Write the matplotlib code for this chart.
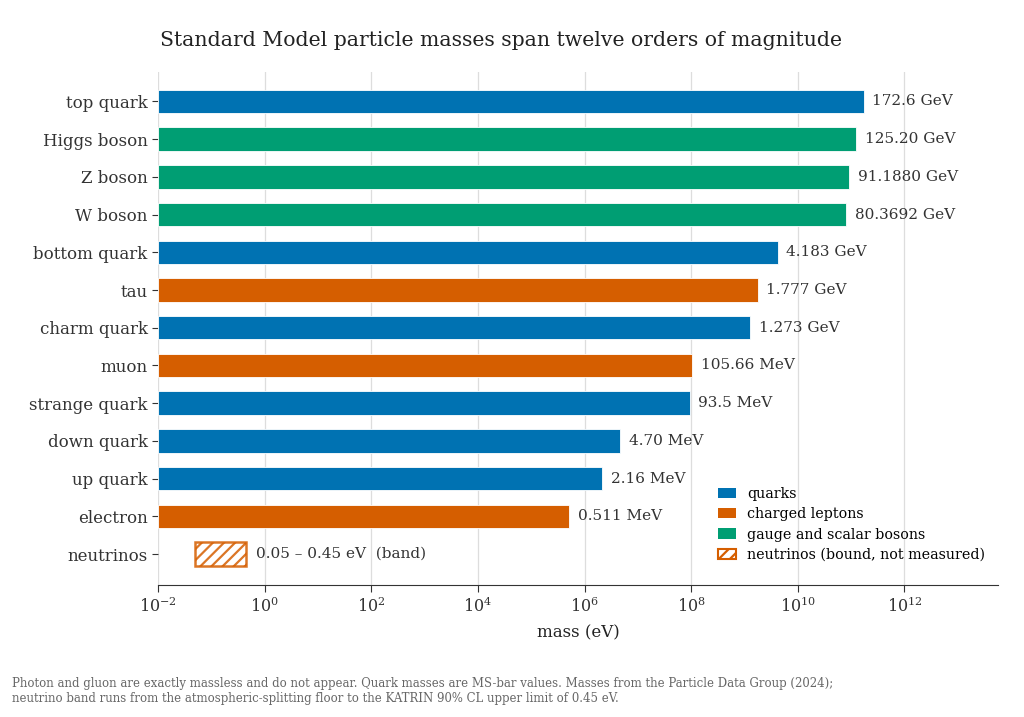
import matplotlib
matplotlib.use("Agg")
import matplotlib.pyplot as plt
from matplotlib.patches import Patch
import numpy as np

particles = ["top quark", "Higgs boson", "Z boson", "W boson", "bottom quark", "tau",
             "charm quark", "muon", "strange quark", "down quark", "up quark", "electron"]
masses_ev = [172.6e9, 125.20e9, 91.1880e9, 80.3692e9, 4.183e9, 1.777e9,
             1.273e9, 105.66e6, 93.5e6, 4.70e6, 2.16e6, 0.511e6]
groups = ["quarks", "gauge and scalar bosons", "gauge and scalar bosons", "gauge and scalar bosons",
          "quarks", "charged leptons", "quarks", "charged leptons", "quarks", "quarks", "quarks",
          "charged leptons"]
value_labels = ["172.6 GeV", "125.20 GeV", "91.1880 GeV", "80.3692 GeV", "4.183 GeV", "1.777 GeV",
                "1.273 GeV", "105.66 MeV", "93.5 MeV", "4.70 MeV", "2.16 MeV", "0.511 MeV"]
neutrino_low, neutrino_high = 0.05, 0.45
neutrino_label = "0.05 \u2013 0.45 eV  (band)"

colors = {"quarks": "#0072B2", "charged leptons": "#D55E00", "gauge and scalar bosons": "#009E73"}
x_floor = 1e-2

plt.rcParams["font.family"] = "DejaVu Serif"
plt.rcParams["hatch.linewidth"] = 1.6
fig = plt.figure(figsize=(10.24, 7.17), dpi=100)
ax = fig.add_axes([158/1024, 1-585/717, (998-158)/1024, (585-72)/717])

n = len(particles)
ypos = np.arange(n, 0, -1)  # top quark at top, neutrinos at 0
for y, m, g, lab in zip(ypos, masses_ev, groups, value_labels):
    ax.barh(y, m - x_floor, left=x_floor, height=0.62, color=colors[g], edgecolor="white", linewidth=0.6, zorder=3)
    ax.text(m * 1.45, y, lab, va="center", ha="left", fontsize=11, color="#333333", zorder=4)

ax.barh(0, neutrino_high - neutrino_low, left=neutrino_low, height=0.62, facecolor="white",
        edgecolor="#D55E00", hatch="///", linewidth=1.8, alpha=0.85, zorder=3)
ax.text(neutrino_high * 1.5, 0, neutrino_label, va="center", ha="left", fontsize=11, color="#333333", zorder=4)

ax.set_xscale("log")
ax.set_xlim(x_floor, 5.7e13)
ax.set_ylim(-0.82, n + 0.78)
ax.set_yticks(list(ypos) + [0])
ax.set_yticklabels(particles + ["neutrinos"], fontsize=12, color="#333333")
ax.set_xticks([10.0**k for k in range(-2, 13, 2)])
ax.xaxis.set_minor_locator(matplotlib.ticker.NullLocator())
ax.tick_params(axis="x", labelsize=11.5, colors="#333333", length=5)
ax.tick_params(axis="y", length=4, colors="#333333")
ax.grid(axis="x", color="#dddddd", linewidth=0.9, zorder=0)
ax.set_axisbelow(True)
for s in ["top", "right", "left"]:
    ax.spines[s].set_visible(False)
ax.spines["bottom"].set_color("#333333")
ax.set_xlabel("mass (eV)", fontsize=12, color="#222222", labelpad=6)

fig.text(501.5/1024, 1 - 40/717, "Standard Model particle masses span twelve orders of magnitude",
         ha="center", va="center", fontsize=14.7, color="#222222")

handles = [Patch(facecolor=colors["quarks"], label="quarks"),
           Patch(facecolor=colors["charged leptons"], label="charged leptons"),
           Patch(facecolor=colors["gauge and scalar bosons"], label="gauge and scalar bosons"),
           Patch(facecolor="white", edgecolor="#D55E00", hatch="///", linewidth=1.5,
                 label="neutrinos (bound, not measured)")]
ax.legend(handles=handles, loc="lower right", bbox_to_anchor=(1.0, 0.02), frameon=False, fontsize=10.25,
          handlelength=1.25, handleheight=0.75, labelspacing=0.45, handletextpad=0.8)

fig.text(12/1024, 1 - 691/717,
         "Photon and gluon are exactly massless and do not appear. Quark masses are MS-bar values. Masses from the Particle Data Group (2024);\n"
         "neutrino band runs from the atmospheric-splitting floor to the KATRIN 90% CL upper limit of 0.45 eV.",
         ha="left", va="center", fontsize=9.37, color="#666666", fontstretch="condensed", linespacing=1.17)

fig.savefig("out.png", dpi=100)
